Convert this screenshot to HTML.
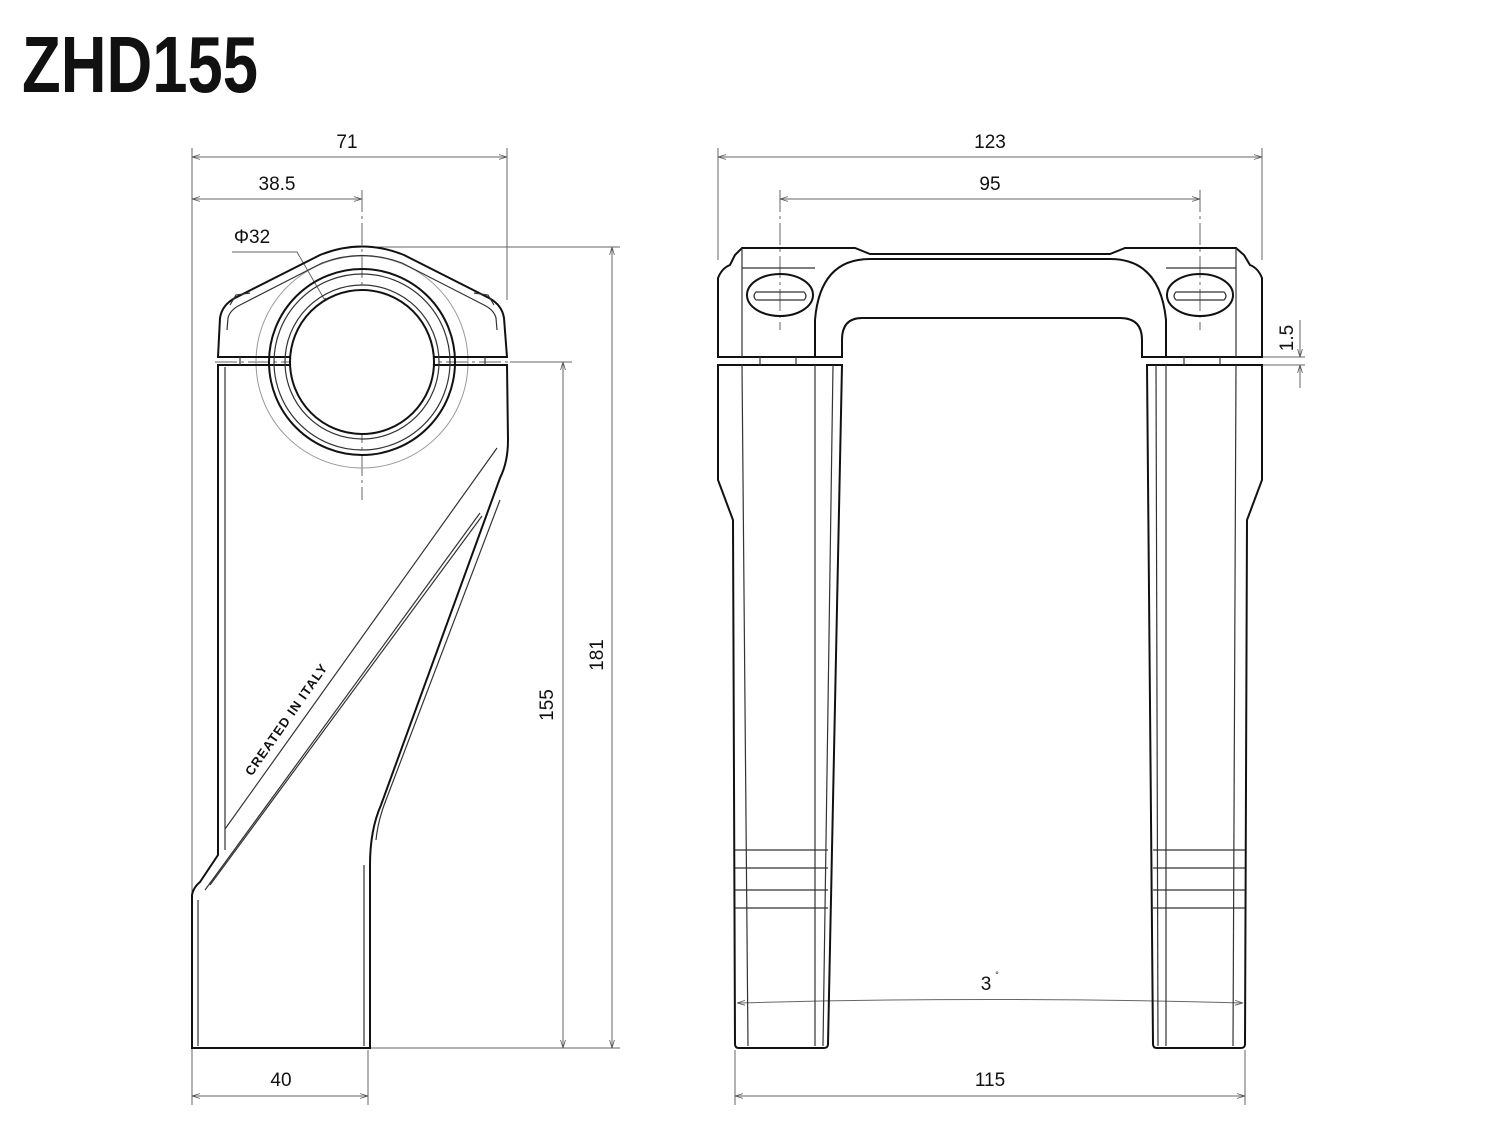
<!DOCTYPE html>
<html><head><meta charset="utf-8"><style>
html,body{margin:0;padding:0;background:#fff}
svg{display:block}
text{font-family:"Liberation Sans",sans-serif;fill:#111}
</style></head><body>
<svg width="1500" height="1135" viewBox="0 0 1500 1135" xmlns="http://www.w3.org/2000/svg">
<defs>
<marker id="a" viewBox="0 0 10 10" refX="10" refY="5" markerWidth="8" markerHeight="8" orient="auto-start-reverse"><path d="M0,2 L10,5 L0,8" fill="none" stroke="#555" stroke-width="1"/></marker>
</defs>
<text x="22" y="92" font-size="80" font-weight="bold" textLength="236" lengthAdjust="spacingAndGlyphs" style="font-family:'Liberation Sans Narrow','Liberation Sans',sans-serif">ZHD155</text>

<!-- LEFT VIEW dimensions -->
<g stroke="#666" stroke-width="1" fill="none">
<line x1="192" y1="148" x2="192" y2="1105"/>
<line x1="507" y1="148" x2="507" y2="300"/>
<line x1="192" y1="157" x2="507" y2="157" marker-start="url(#a)" marker-end="url(#a)"/>
<line x1="192" y1="199" x2="362" y2="199" marker-start="url(#a)" marker-end="url(#a)"/>
<line x1="362" y1="190" x2="362" y2="500" stroke-dasharray="22,4,3,4"/>
<line x1="215" y1="362" x2="520" y2="362" stroke-dasharray="22,4,3,4"/>
<line x1="362" y1="247" x2="620" y2="247"/>
<line x1="510" y1="362" x2="572" y2="362"/>
<line x1="370" y1="1048" x2="620" y2="1048"/>
<line x1="612" y1="247" x2="612" y2="1048" marker-start="url(#a)" marker-end="url(#a)"/>
<line x1="563" y1="362" x2="563" y2="1048" marker-start="url(#a)" marker-end="url(#a)"/>
<line x1="368" y1="1050" x2="368" y2="1105"/>
<line x1="192" y1="1096" x2="368" y2="1096" marker-start="url(#a)" marker-end="url(#a)"/>
<polyline points="232,252 297,252 397,425" marker-end="url(#a)"/>
<line x1="326" y1="300" x2="325" y2="298" marker-end="url(#a)"/>
<circle cx="362" cy="362" r="106" stroke="#999"/>
</g>
<g font-size="19" text-anchor="middle">
<text x="347" y="148">71</text>
<text x="277" y="190">38.5</text>
<text x="252" y="243">Φ32</text>
<text x="281" y="1086">40</text>
<text transform="translate(603,655) rotate(-90)">181</text>
<text transform="translate(553,705) rotate(-90)">155</text>
</g>

<!-- LEFT VIEW body -->
<g stroke="#111" stroke-width="2" fill="none">
<path d="M218,357 L220,318 Q222,305 235,298 L320,255 Q362,238 404,255 L489,298 Q502,305 504,318 L507,357 Z"/>
<path d="M218,365 L507,365 L508,440 Q508,462 500,478 L381,805 Q370,830 370,865 L370,1048 L192,1048 L192,895 Q193,888 200,882 L218,855 Z"/>
<circle cx="362" cy="362" r="72" fill="#fff"/>
<circle cx="362" cy="362" r="93"/>
</g>
<g stroke="#333" stroke-width="1.2" fill="none">
<path d="M230,305 L236,295 L250,293"/><path d="M494,305 L488,295 L474,293"/>
<path d="M227,330 L228,318 Q230,310 240,305 L322,263 Q362,248 402,263 L484,305 Q494,310 496,318 L497,330"/>
<circle cx="362" cy="362" r="77"/>
<circle cx="362" cy="362" r="88"/>
<line x1="225" y1="367" x2="225" y2="850"/>
<line x1="198" y1="900" x2="198" y2="1046"/>
<line x1="364" y1="865" x2="364" y2="1046"/>
<path d="M205,890 L480,513"/>
<path d="M210,885 L482,516"/>
<path d="M225,829 L497,448"/>
<path d="M376,840 Q378,820 386,800 L500,500"/>
<line x1="240" y1="357" x2="240" y2="365"/><line x1="485" y1="357" x2="485" y2="365"/>
</g>
<text transform="translate(290,722) rotate(-55)" font-size="13" font-weight="bold" text-anchor="middle" letter-spacing="1">CREATED IN ITALY</text>

<!-- RIGHT VIEW dimensions -->
<g stroke="#666" stroke-width="1" fill="none">
<line x1="718" y1="148" x2="718" y2="260"/>
<line x1="1262" y1="148" x2="1262" y2="260"/>
<line x1="718" y1="157" x2="1262" y2="157" marker-start="url(#a)" marker-end="url(#a)"/>
<line x1="780" y1="190" x2="780" y2="330" stroke-dasharray="22,4,3,4"/>
<line x1="1200" y1="190" x2="1200" y2="330" stroke-dasharray="22,4,3,4"/>
<line x1="780" y1="199" x2="1200" y2="199" marker-start="url(#a)" marker-end="url(#a)"/>
<line x1="1262" y1="357" x2="1305" y2="357"/>
<line x1="1262" y1="365" x2="1305" y2="365"/>
<line x1="1300" y1="320" x2="1300" y2="357" marker-end="url(#a)"/>
<line x1="1300" y1="388" x2="1300" y2="365" marker-end="url(#a)"/>
<path d="M737,1003 Q990,996 1243,1003" marker-start="url(#a)" marker-end="url(#a)"/>
<line x1="735" y1="1050" x2="735" y2="1105"/>
<line x1="1245" y1="1050" x2="1245" y2="1105"/>
<line x1="735" y1="1096" x2="1245" y2="1096" marker-start="url(#a)" marker-end="url(#a)"/>
</g>
<g font-size="19" text-anchor="middle">
<text x="990" y="148">123</text>
<text x="990" y="190">95</text>
<text x="986" y="990">3</text><text x="997" y="978" font-size="9">°</text>
<text x="990" y="1086">115</text>
<text transform="translate(1293,338) rotate(-90)">1.5</text>
</g>

<!-- RIGHT VIEW body -->
<g stroke="#111" stroke-width="2" fill="none">
<path d="M718,357 L718,278 Q722,268 730,265 L735,255 L742,248 L855,248 L870,254 L1110,254 L1125,248 L1236,248 L1244,255 L1250,265 Q1258,268 1262,278 L1262,357 L1142,357 L1142,340 Q1142,318 1120,318 L862,318 Q842,318 842,340 L842,357 Z"/>
<path d="M815,357 L815,320 Q820,259 870,259 L1110,259 Q1160,259 1166,320 L1166,357"/>
<path d="M718,365 L842,365 L828,1044 Q828,1048 824,1048 L739,1048 Q735,1048 735,1044 L733,520 L718,480 Z"/>
<path d="M1147,365 L1262,365 L1262,480 L1247,520 L1245,1044 Q1245,1048 1241,1048 L1157,1048 Q1153,1048 1153,1044 Z"/>
<ellipse cx="780" cy="295" rx="33" ry="21"/>
<ellipse cx="1200" cy="295" rx="33" ry="21"/>
</g>
<g stroke="#333" stroke-width="1.2" fill="none">
<line x1="742" y1="248" x2="742" y2="357"/><line x1="1236" y1="248" x2="1236" y2="357"/>
<line x1="742" y1="268" x2="815" y2="268"/><line x1="1166" y1="268" x2="1236" y2="268"/>
<path d="M756,300 L804,300 Q808,296 804,292 L756,292 Q752,296 756,300"/>
<path d="M1176,300 L1224,300 Q1228,296 1224,292 L1176,292 Q1172,296 1176,300"/>
<line x1="742" y1="365" x2="748" y2="1046"/><line x1="815" y1="365" x2="815" y2="1046"/>
<line x1="1166" y1="365" x2="1166" y2="1046"/><line x1="1236" y1="365" x2="1233" y2="1046"/>
<line x1="833" y1="365" x2="823" y2="1046"/><line x1="1156" y1="365" x2="1158" y2="1046"/>
<line x1="760" y1="357" x2="760" y2="365"/><line x1="796" y1="357" x2="796" y2="365"/>
<line x1="1184" y1="357" x2="1184" y2="365"/><line x1="1220" y1="357" x2="1220" y2="365"/>
<path d="M735,850 L828,850 M735,868 L828,868 M735,890 L828,890 M735,908 L828,908"/>
<path d="M1153,850 L1245,850 M1153,868 L1245,868 M1153,890 L1245,890 M1153,908 L1245,908"/>
</g>
</svg>
</body></html>
